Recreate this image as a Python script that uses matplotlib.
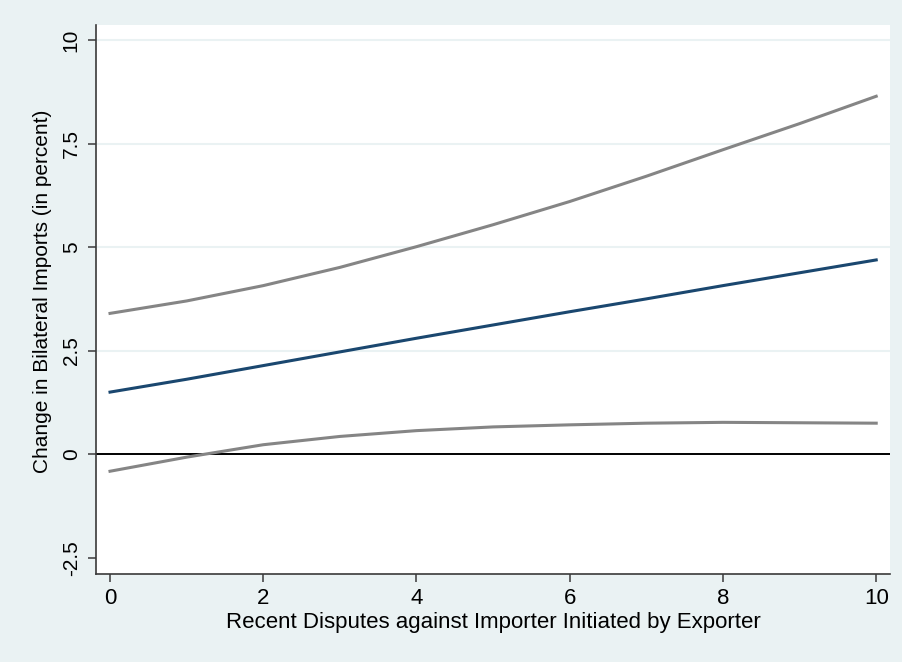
import matplotlib.pyplot as plt

plt.rcParams['font.family'] = ['Liberation Sans', 'DejaVu Sans']

disputes = [0, 1, 2, 3, 4, 5, 6, 7, 8, 9, 10]
effect = [1.50, 1.81, 2.14, 2.47, 2.80, 3.12, 3.44, 3.75, 4.07, 4.38, 4.69]
upper_ci = [3.40, 3.70, 4.07, 4.51, 5.01, 5.54, 6.10, 6.71, 7.35, 7.98, 8.64]
lower_ci = [-0.41, -0.07, 0.23, 0.43, 0.57, 0.66, 0.71, 0.75, 0.77, 0.76, 0.75]

yticks = [-2.5, 0, 2.5, 5, 7.5, 10]
yticklabels = ["-2.5", "0", "2.5", "5", "7.5", "10"]
xticks = [0, 2, 4, 6, 8, 10]

bg = "#eaf2f3"
fig = plt.figure(figsize=(9.03, 6.62), dpi=100, facecolor=bg)
ax = fig.add_axes([96 / 903, 1 - 574 / 662, (890 - 96) / 903, (574 - 25) / 662])
ax.set_facecolor("white")

for y in [2.5, 5, 7.5, 10]:
    ax.axhline(y, color=bg, lw=1.5, zorder=0)
ax.axhline(0, color="black", lw=1.4, zorder=1)

ax.plot(disputes, upper_ci, color="#858585", lw=2.2, zorder=2)
ax.plot(disputes, lower_ci, color="#858585", lw=2.2, zorder=2)
ax.plot(disputes, effect, color="#1a476f", lw=2.2, zorder=3)

ax.set_xlim(-0.183, 10.18)
ax.set_ylim(-2.89, 10.36)
ax.set_xticks(xticks)
ax.set_xticklabels([str(v) for v in xticks])
ax.set_yticks(yticks)
ax.set_yticklabels(yticklabels, rotation=90, va="center")

for s in ["top", "right"]:
    ax.spines[s].set_visible(False)
for s in ["left", "bottom"]:
    ax.spines[s].set_color("#3a3a3a")
    ax.spines[s].set_linewidth(1.2)
ax.tick_params(length=6, width=1.1, color="#3a3a3a")
ax.tick_params(axis="x", pad=4, labelsize=16)
ax.tick_params(axis="y", pad=5, labelsize=15)

ax.set_xlabel("Recent Disputes against Importer Initiated by Exporter", fontsize=16, labelpad=2)
ax.set_ylabel("Change in Bilateral Imports (in percent)", fontsize=15)
ax.yaxis.set_label_coords(-0.056, 0.515)

fig.savefig("out.png", dpi=100, facecolor=bg)
